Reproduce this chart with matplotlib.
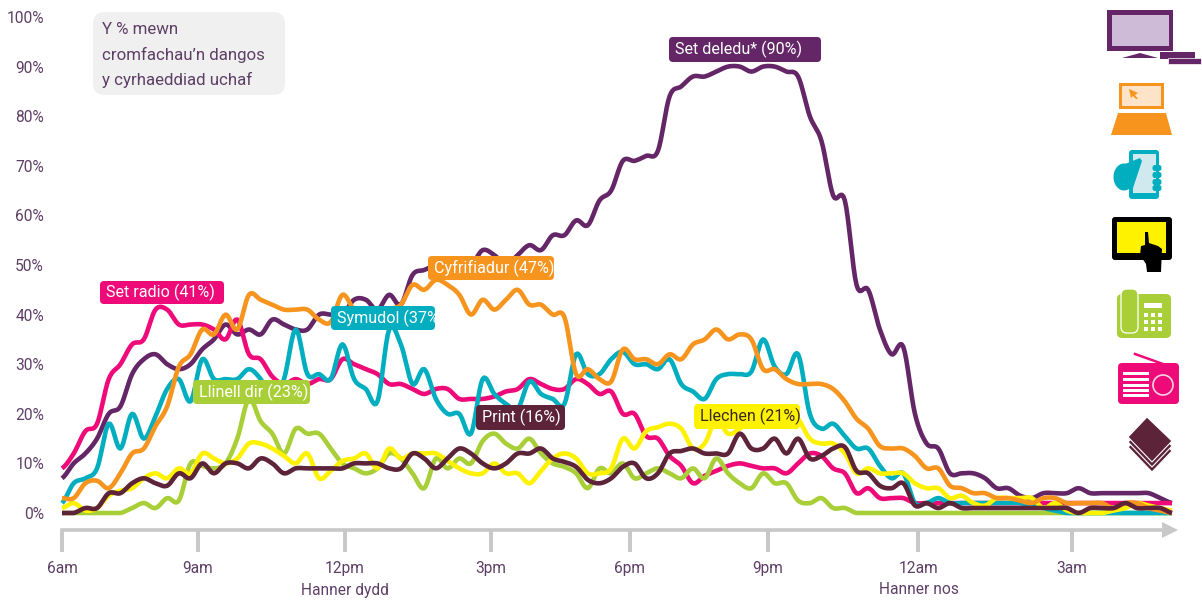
import numpy as np
import matplotlib
matplotlib.use("Agg")
import matplotlib.pyplot as plt
from matplotlib.patches import FancyBboxPatch, Rectangle, Polygon, Circle, Ellipse

plt.rcParams['font.family'] = ['Roboto', 'Liberation Sans', 'DejaVu Sans']

tv = [7,10,12,15,20,21.5,28,31,32,30,29,30,33,35,38,36,37,36,39,38,37,37,40,40,40,43,43,41,44,42,48,49,50,51,51,50,53,52,50,52,54,53,56,56,59,58,63,65,71,71,72,73,84,86,88,88,89,90,90,89,90,90,89,88,80,75,64,63,46,45,37,32,33.5,20,14,13,8,8,8,7,5,5,3.5,3,4,4,4,5,4,4,4,4,4,4,3,2]
radio = [9,12,16.5,18,27,30,34,35,41,41,38,38,38,37,35,39,32,31,27.5,26,27,26,27,27,31,30,29,28,26,26,25,24,25,25,23,23,23,23.5,24.5,25,27,26,25,25,27,26,24,24.5,20,20,15.5,15,11.5,9.5,6,7.5,8.5,9.5,10,9.5,9,9,8,10,12,11.5,9,8,4,5,3,3,3,
         2,2,2,2,2, 2,2,2,2,2, 2,2,2,2,2, 2,2,2,2,2, 2,2,2]
computer = [3,3,6,6.5,5,8,12,13,17.5,21.5,29.5,32,37,36,40,37,44,43,42,41,41,41,39,38.5,44,41,40,39,41,42,46,45,47,46,44,40,43,41,43,45,42,42,40,39.5,28,29,27,26.5,33,31,31,30,32,31,34,35,37,35,36,35,29,29,27,26,26,26,25,22.5,19,17,13.5,13,13,11.5,9,9,5.5,5,4,4,3,3,2.5,2,3,3,2,2,2,2,1,2,2,1,0.5,0]
mobile = [2,6,7,9,18,13,20,15,19.5,25,27,22.5,31,27,27,27,29,27,23,27,37,28,28,27,34,27,25,22.5,37,34,26,29,23,20,20,16,27,24,22,21,26.5,24,23,22,32,28,28,31,32.5,30,30,29,31,26,24.5,23,27,28,28,28.5,35,29.5,28,32,20,17,18,15.5,13,13,9.5,7,8,2,2,3,2,2,2,2,2,2,2,1.5,1,0.5,
          0,0,0,0,0, 0,0,0,0,0]
landline = [0,0,0,0,0,0,1,2,1,3,2.5,10,9.5,9,10,15,23,18.5,16,12,17,16,16,13,10,9,8,9,12,11,8,5,11,9,11,10,14.5,16,14,13,15,12,10,9.3,8,5,9,8,10,7,8,9,8,7,9,7,11,8,6,5,8,6,6,2.5,2,3,1,1,
            0,0,0,0,0, 0,0,0,0,0, 0,0,0,0,0, 0,0,0,0,0, 0,0,0,0,0, 0,0,0]
tablet = [1,2,0.5,1,3.5,4.5,5,7,8,7,9,8,12,11,10,11,14,14,13,11.5,10,12,7,8.5,10.5,11,12,9,13,11,12,12,12,10.5,9,8,8,10,8,8,6,8.5,11,12,11,8,8,9,15,13,16.5,17.3,18,17,13,14,19,16,17,19,20,21,21,19,15,14,14,12,8,9,8,8,8,6,5,5,3,3.5,2,1.5,3,3,3,3,1,2,0.5,0,0,0,0.5,1,2,1.5,1,0.5]
printed = [0,0,1,1,4,4,6,7,6,5.5,8,7,10,8,10,10,9,11,10,8,9,9,9,9,9,10,10,10,9,9,12,11,9,11,13,12,10,9,10,12,12,13,11,10.3,9.3,6.7,6,7,9.3,10,7,8,12,12.5,13,12,12,12,16,13,13,15,12,15,11,11.5,13,13.3,8.5,8,5.5,5,6,1.5,2,1,2,1,1,1,1,1,1,1,1,1,1,0,1,1,1,2,1,1,1,0]

x_labels = ['6am', '9am', '12pm', '3pm', '6pm', '9pm', '12am', '3am']
x_ticks = [0, 11.64, 24.2, 36.7, 48.6, 60.4, 73.3, 86.4]
y_ticks = list(range(0, 101, 10))

PURPLE = '#642667'; PINK = '#EE0A78'; ORANGE = '#F7941E'; TEAL = '#00AEC0'
GREEN = '#A9CF38'; YELLOW = '#FFF200'; DARK = '#5C2339'
GREY = '#C8C8C8'; TXT = '#5E3F66'
FS = 11.2

W, H = 1202, 600
fig = plt.figure(figsize=(W/100, H/100), dpi=100)
fig.patch.set_facecolor('white')
ax = fig.add_axes([62/W, 1-513/H, (1172-62)/W, (513-17)/H])
ax.set_xlim(0, 95); ax.set_ylim(0, 100)
ax.patch.set_alpha(0)

def smooth(ys, n=8):
    ys = np.asarray(ys, float)
    xs = np.arange(len(ys), dtype=float)
    p = np.r_[ys[0], ys, ys[-1]]
    t = np.linspace(0, 1, n, endpoint=False)[:, None]
    a, b, c, d = p[:-3, None].T, p[1:-2, None].T, p[2:-1, None].T, p[3:, None].T
    seg = 0.5*((2*b) + (-a+c)*t + (2*a-5*b+4*c-d)*t**2 + (-a+3*b-3*c+d)*t**3)
    xx = (xs[:-1, None].T + t).ravel(order='F')
    return np.r_[xx, xs[-1]], np.r_[seg.ravel(order='F'), ys[-1]]

for vals, col, z in [(tv, PURPLE, 2), (radio, PINK, 3), (landline, GREEN, 4), (mobile, TEAL, 5),
                     (tablet, YELLOW, 6), (computer, ORANGE, 7), (printed, DARK, 8)]:
    sx, sy = smooth(vals)
    ax.plot(sx, np.clip(sy, 0, None), color=col, lw=3.3, zorder=z, solid_capstyle='butt',
            solid_joinstyle='round', clip_on=False)

for s in ['top', 'right', 'left']:
    ax.spines[s].set_visible(False)
ax.spines['bottom'].set_position(('outward', 12.5))
ax.spines['bottom'].set_color(GREY)
ax.spines['bottom'].set_linewidth(2.6)
ax.set_yticks(y_ticks)
ax.set_yticklabels([f'{v}%' for v in y_ticks], fontsize=FS, color=TXT)
ax.tick_params(axis='y', length=0, pad=13)
ax.set_xticks(x_ticks)
ax.set_xticklabels(x_labels, fontsize=FS, color=TXT)
ax.tick_params(axis='x', length=16, width=2.8, color=GREY, pad=6)

ov = fig.add_axes([0, 0, 1, 1], zorder=5)
ov.set_xlim(0, W); ov.set_ylim(H, 0); ov.axis('off'); ov.patch.set_alpha(0)

ov.add_patch(Polygon([(1162, 522), (1178, 530), (1162, 538)], closed=True, color=GREY, lw=0))
ov.text(345, 590, 'Hanner dydd', fontsize=FS, color=TXT, ha='center', va='center')
ov.text(919, 590, 'Hanner nos', fontsize=FS, color=TXT, ha='center', va='center')

def box(x0, y0, x1, y1, col, r=4, z=10):
    p = FancyBboxPatch((x0+r, y0+r), x1-x0-2*r, y1-y0-2*r,
                 boxstyle=f'round,pad={r},rounding_size={r}', fc=col, ec='none', zorder=z)
    ov.add_patch(p)
    return p

box(93, 12, 285, 95, '#F0F0F0', r=12)
for yy, t in zip([30, 55, 80], ['Y % mewn', 'cromfachau’n dangos', 'y cyrhaeddiad uchaf']):
    ov.text(102, yy, t, fontsize=12.2, color=TXT, ha='left', va='center', zorder=11)

labels = [('Set deledu* (90%)', 669, 37, 821, 62, PURPLE, 'white'),
          ('Cyfrifiadur (47%)', 428, 256, 554, 280, ORANGE, 'white'),
          ('Set radio (41%)', 100, 281, 224, 304, PINK, 'white'),
          ('Symudol (37%)', 331, 306, 435, 330, TEAL, 'white'),
          ('Llinell dir (23%)', 193, 380, 310, 404, GREEN, 'white'),
          ('Print (16%)', 476, 405, 565, 430, DARK, 'white'),
          ('Llechen (21%)', 694, 404, 800, 429, YELLOW, '#3A2A1E')]
for t, x0, y0, x1, y1, col, tc in labels:
    p = box(x0, y0, x1, y1, col)
    txt = ov.text(x0+6, (y0+y1)/2, t, fontsize=11.6, color=tc, ha='left', va='center', zorder=11)
    txt.set_clip_path(p)

# TV
ov.add_patch(Rectangle((1107, 10), 66, 41, fc=PURPLE, ec='none'))
ov.add_patch(Rectangle((1112, 15), 57, 31, fc='#CDBBD8', ec='none'))
ov.add_patch(Polygon([(1122, 58), (1140, 53), (1158, 58)], fc=PURPLE, ec='none'))
ov.add_patch(Rectangle((1160, 52), 35, 7, fc=PURPLE, ec='none'))
ov.add_patch(Rectangle((1168, 58), 33, 5.5, fc=PURPLE, ec='white', lw=0.5))
# Laptop
ov.add_patch(Rectangle((1119, 83), 45, 26, fc=ORANGE, ec='none'))
ov.add_patch(Rectangle((1122, 86), 39, 20, fc='#FDE3C8', ec='none'))
ov.add_patch(Polygon([(1129, 89), (1138, 93), (1135, 95), (1138, 99), (1136, 99), (1133, 96), (1131, 98)], fc=ORANGE, ec='none'))
ov.add_patch(Polygon([(1118, 113), (1166, 113), (1172, 135), (1111, 135)], fc=ORANGE, ec='none'))
# Mobile
ov.add_patch(FancyBboxPatch((1131, 152), 26, 45, boxstyle='round,pad=2,rounding_size=3', fc=TEAL, ec='none'))
ov.add_patch(Rectangle((1133, 154), 23, 39, fc='#CFE9EF', ec='none'))
ov.add_patch(Ellipse((1124, 177), 21, 27, fc=TEAL, ec='none'))
ov.add_patch(Polygon([(1120, 166), (1140, 158), (1142, 161), (1133, 188), (1124, 190)], fc=TEAL, ec='none'))
for yy in [168, 175, 182, 188]:
    ov.add_patch(FancyBboxPatch((1154, yy-1.5), 6, 3, boxstyle='round,pad=1.5,rounding_size=2.5', fc=TEAL, ec='none'))
# Tablet
ov.add_patch(FancyBboxPatch((1114, 219), 56, 39, boxstyle='round,pad=2,rounding_size=3', fc='black', ec='none'))
ov.add_patch(Rectangle((1117, 222), 49, 31, fc=YELLOW, ec='none'))
ov.add_patch(Polygon([(1145, 232), (1148, 232), (1149, 243), (1158, 246), (1162, 249), (1161, 272),
                      (1147, 272), (1146, 264), (1140, 255), (1141, 246), (1145, 245)], fc='black', ec='none'))
# Landline
ov.add_patch(FancyBboxPatch((1120, 297), 48, 38, boxstyle='round,pad=3,rounding_size=5', fc=GREEN, ec='none'))
ov.add_patch(FancyBboxPatch((1124, 292), 11, 38, boxstyle='round,pad=3,rounding_size=6', fc=GREEN, ec='white', lw=0.9))
ov.add_patch(Rectangle((1144, 303), 18, 4.5, fc='white', ec='none'))
for ky in [315, 322, 329]:
    for kx in [1146, 1153, 1160]:
        ov.add_patch(Rectangle((kx-1.7, ky-1.7), 3.4, 3.4, fc='white', ec='none'))
# Radio
ov.plot([1135, 1163], [354, 364], color=PINK, lw=1.8)
ov.add_patch(FancyBboxPatch((1121, 366), 55, 35, boxstyle='round,pad=3,rounding_size=4', fc=PINK, ec='none'))
for yy in [373, 379, 385, 390, 395]:
    ov.add_patch(Rectangle((1123, yy-1), 26, 2.6, fc='white', ec='none'))
ov.add_patch(Circle((1163, 385), 10, fc=PINK, ec='#F3D5E3', lw=1.2))
# Print stack
for dy in (10, 5, 0):
    ov.add_patch(Polygon([(1147+dy*0.4, 417+dy), (1172, 441+dy), (1152, 462+dy), (1128, 437+dy)],
                         fc=DARK, ec='white', lw=0.8))

fig.savefig('out.png', dpi=100)
